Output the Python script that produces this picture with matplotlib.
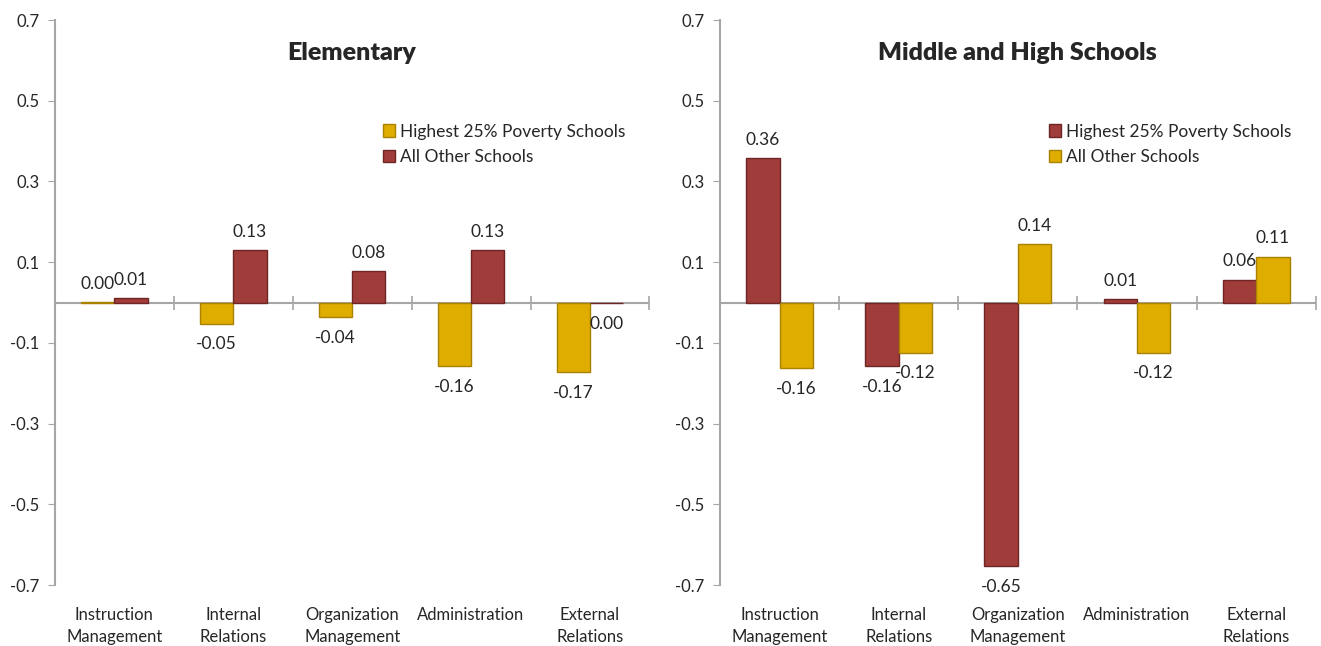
import matplotlib
matplotlib.use("Agg")
import matplotlib.pyplot as plt
import numpy as np

categories = ["Instruction\nManagement", "Internal\nRelations", "Organization\nManagement",
              "Administration", "External\nRelations"]

# Elementary
elem_highest = [0.002, -0.052, -0.037, -0.158, -0.173]
elem_other = [0.012, 0.129, 0.077, 0.129, -0.001]

# Middle and High Schools
mh_highest = [0.359, -0.158, -0.654, 0.008, 0.057]
mh_other = [-0.162, -0.124, 0.144, -0.124, 0.114]

yticks = [-0.7, -0.5, -0.3, -0.1, 0.1, 0.3, 0.5, 0.7]
ytick_labels = ["-0.7", "-0.5", "-0.3", "-0.1", "0.1", "0.3", "0.5", "0.7"]

RED = "#A03C3A"
RED_EDGE = "#6E2625"
YEL = "#DFAC00"
YEL_EDGE = "#A88200"
GRAY = "#A6A6A6"
TXT = "#262626"

plt.rcParams['font.family'] = ['Lato', 'DejaVu Sans']

fig = plt.figure(figsize=(13.21, 6.46), dpi=100)

def fmt(v):
    s = f"{v:.2f}"
    if s == "-0.00":
        s = "0.00"
    return s

def draw(ax, title, s1, s2, c1, e1, c2, e2, n1, n2):
    x = np.arange(len(categories))
    w = 0.28
    b1 = ax.bar(x - w / 2, s1, width=w, color=c1, edgecolor=e1, linewidth=1, label=n1, zorder=3)
    b2 = ax.bar(x + w / 2, s2, width=w, color=c2, edgecolor=e2, linewidth=1, label=n2, zorder=3)
    for bars, vals in ((b1, s1), (b2, s2)):
        for b, v in zip(bars, vals):
            cx = b.get_x() + b.get_width() / 2
            off = 13 if v >= 0 else -15
            ax.annotate(fmt(v), (cx, v), xytext=(0, off), textcoords="offset points",
                        ha="center", va="center", fontsize=12.5, color=TXT, zorder=5)
    ax.set_xlim(-0.5, len(categories) - 0.5)
    ax.set_ylim(-0.7, 0.7)
    ax.set_yticks(yticks)
    ax.set_yticklabels(ytick_labels, fontsize=12, color=TXT)
    ax.set_xticks(x)
    ax.set_xticklabels(categories, fontsize=12, color=TXT, linespacing=1.45)
    ax.tick_params(axis="x", length=0, pad=16)
    ax.tick_params(axis="y", length=5, color=GRAY, pad=6)
    for s in ("top", "right", "bottom"):
        ax.spines[s].set_visible(False)
    ax.spines["left"].set_color(GRAY)
    ax.spines["left"].set_linewidth(1.5)
    ax.axhline(0, color=GRAY, linewidth=1.5, zorder=2)
    bounds = np.arange(-0.5, len(categories), 1.0)
    ax.plot(bounds, np.zeros_like(bounds), linestyle="none", marker="|", markersize=10,
            markeredgewidth=1.2, color=GRAY, zorder=2, clip_on=False)
    ax.text(0.5, 0.942, title, transform=ax.transAxes, ha="center", va="center",
            fontsize=18, fontweight="heavy", color=TXT)
    leg = ax.legend(loc="upper left", bbox_to_anchor=(0.54, 0.829), frameon=False,
                    fontsize=12.5, handlelength=0.7, handleheight=0.7, handletextpad=0.3,
                    labelspacing=0.55, borderaxespad=0)
    for t in leg.get_texts():
        t.set_color(TXT)

ax1 = fig.add_axes([0.0416, 0.0944, 0.450, 0.8746])
draw(ax1, "Elementary", elem_highest, elem_other, YEL, YEL_EDGE, RED, RED_EDGE,
     "Highest 25% Poverty Schools", "All Other Schools")

ax2 = fig.add_axes([0.545, 0.0944, 0.451, 0.8746])
draw(ax2, "Middle and High Schools", mh_highest, mh_other, RED, RED_EDGE, YEL, YEL_EDGE,
     "Highest 25% Poverty Schools", "All Other Schools")

fig.savefig("out.png", dpi=100)
